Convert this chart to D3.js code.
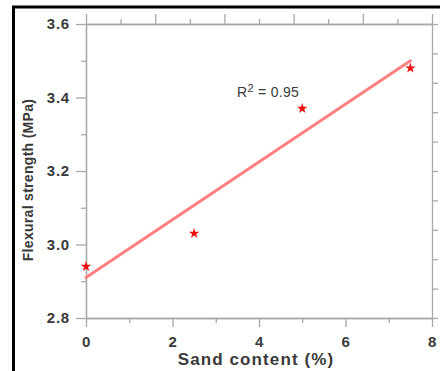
<!DOCTYPE html>
<html><head><meta charset="utf-8">
<script src="https://cdn.jsdelivr.net/npm/d3@7"></script>
<style>body{margin:0;background:#fff}svg{display:block}</style>
</head><body>
<svg id="c" width="440" height="371"></svg>
<script>
const sandContent = [0, 2.5, 5, 7.5];
const flexuralStrength = [2.94, 3.03, 3.37, 3.48];
const fitX = [0, 7.5];
const fitY = [2.91, 3.50];
const xTicks = [0, 2, 4, 6, 8];
const yTicks = [2.8, 3.0, 3.2, 3.4, 3.6];
const xTitle = "Sand content (%)";
const yTitle = "Flexural strength (MPa)";
const rLabel = "0.95";

const svg = d3.select("#c");
const x = d3.scaleLinear().domain([0, 8]).range([86, 432]);
const y = d3.scaleLinear().domain([2.8, 3.6]).range([318, 24]);
const axisCol = "#a8a8a8";
const textCol = "#3a3a3a";
const font = "Liberation Sans, Arial, sans-serif";

// frame
svg.append("line").attr("x1",13.5).attr("x2",13.5).attr("y1",6).attr("y2",371).attr("stroke","#000").attr("stroke-width",3);
svg.append("line").attr("x1",12).attr("x2",440).attr("y1",7).attr("y2",7).attr("stroke","#000").attr("stroke-width",3);

function styleAxis(g){
  g.select(".domain").attr("stroke",axisCol).attr("stroke-width",1.3);
  g.selectAll(".tick line").attr("stroke",axisCol).attr("stroke-width",1.3);
  g.selectAll("text").attr("fill",textCol).attr("font-family",font).attr("font-weight","bold").attr("font-size",15).attr("letter-spacing",0.8);
}
// bottom
const gb = svg.append("g").attr("transform",`translate(0,${y(2.8)})`)
  .call(d3.axisBottom(x).tickValues(xTicks).tickFormat(d3.format("d")).tickSize(9).tickSizeOuter(0).tickPadding(9));
styleAxis(gb);
const gbm = svg.append("g").attr("transform",`translate(0,${y(2.8)})`)
  .call(d3.axisBottom(x).tickValues([1,3,5,7]).tickFormat("").tickSize(5).tickSizeOuter(0));
styleAxis(gbm);
// left
const gl = svg.append("g").attr("transform",`translate(${x(0)},0)`)
  .call(d3.axisLeft(y).tickValues(yTicks).tickFormat(d3.format(".1f")).tickSize(10).tickSizeOuter(0).tickPadding(6));
styleAxis(gl);
const glm = svg.append("g").attr("transform",`translate(${x(0)},0)`)
  .call(d3.axisLeft(y).tickValues([2.9,3.1,3.3,3.5]).tickFormat("").tickSize(5).tickSizeOuter(0));
styleAxis(glm);
// top
const xTop = d3.range(0, 11).map(i => i * 0.8);
const gt = svg.append("g").attr("transform",`translate(0,${y(3.6)})`)
  .call(d3.axisTop(x).tickValues(xTop.filter((d,i)=>i%2===0)).tickFormat("").tickSize(10).tickSizeOuter(0));
styleAxis(gt);
const gtm = svg.append("g").attr("transform",`translate(0,${y(3.6)})`)
  .call(d3.axisTop(x).tickValues(xTop.filter((d,i)=>i%2===1)).tickFormat("").tickSize(5).tickSizeOuter(0));
styleAxis(gtm);
// right
const yRight = d3.range(0, 11).map(i => 2.8 + i * 0.08);
const gr = svg.append("g").attr("transform",`translate(${x(8)},0)`)
  .call(d3.axisRight(y).tickValues(yRight).tickFormat("").tickSize(6).tickSizeOuter(0));
styleAxis(gr);

// fit line
svg.append("line")
  .attr("x1", x(fitX[0])).attr("y1", y(fitY[0]))
  .attr("x2", x(fitX[1])).attr("y2", y(fitY[1]))
  .attr("stroke","#ff8080").attr("stroke-width",3).attr("stroke-linecap","round");

// stars
const star = d3.symbol().type(d3.symbolStar).size(34);
svg.selectAll(".pt").data(sandContent).join("path")
  .attr("d", star)
  .attr("transform",(d,i)=>`translate(${x(d)},${y(flexuralStrength[i])})`)
  .attr("fill","#ee1111");

// R^2 text
const rt = svg.append("text").attr("x",237).attr("y",97)
  .attr("fill",textCol).attr("font-family",font).attr("font-size",14).attr("letter-spacing",0.3);
rt.append("tspan").text("R");
rt.append("tspan").attr("dy",-5).attr("font-size",11).text("2");
rt.append("tspan").attr("dy",5).text(" = " + rLabel);

// titles
svg.append("text").attr("x",256).attr("y",365).attr("text-anchor","middle")
  .attr("fill",textCol).attr("font-family",font).attr("font-weight","bold").attr("font-size",17).attr("letter-spacing",1.1)
  .text(xTitle);
svg.append("text").attr("transform","translate(33,180) rotate(-90)").attr("text-anchor","middle")
  .attr("fill",textCol).attr("font-family",font).attr("font-weight","bold").attr("font-size",14).attr("letter-spacing",0.3)
  .text(yTitle);
</script>
</body></html>
